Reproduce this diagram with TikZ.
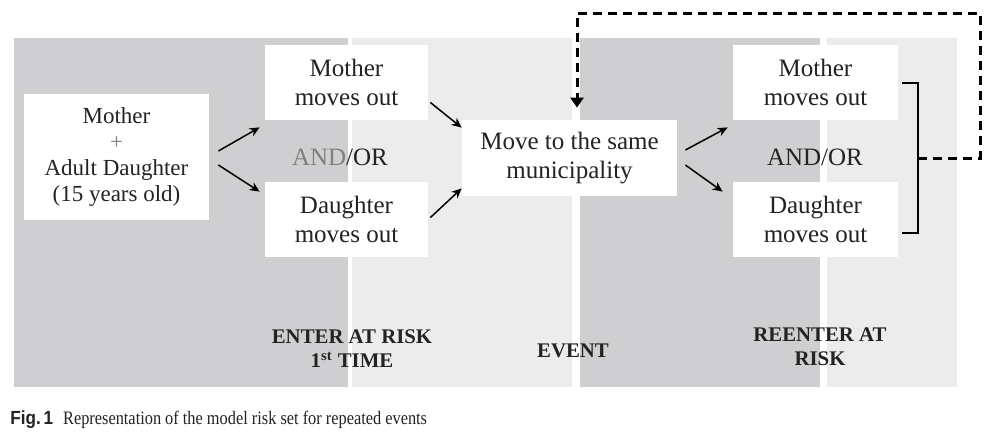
\documentclass[tikz,border=0pt]{standalone}
\usepackage{fontspec}
\setmainfont{Liberation Serif}
\newfontfamily\capfont{Liberation Sans}
\usetikzlibrary{calc,arrows.meta}

\definecolor{paneldark}{RGB}{207,207,209}
\definecolor{panellight}{RGB}{236,236,236}
\definecolor{inkgray}{RGB}{35,35,35}

\tikzset{
  box/.style={fill=white, align=center, inner sep=0pt, text=inkgray,
    font=\fontsize{12.5}{14.5}\selectfont},
  phase/.style={align=center, text=inkgray, font=\bfseries\fontsize{10.4}{12}\selectfont},
  arr/.style={-{Stealth[length=5pt,width=4.5pt]}, line width=0.75pt},
  brace/.style={line width=1pt},
  loopline/.style={line width=1.5pt, dash pattern=on 4.5pt off 3pt,
    -{Triangle[length=5pt,width=6.5pt]}},
}

\begin{document}
\begin{tikzpicture}[x=0.5pt, y=-0.5pt]
\useasboundingbox (0,0) rectangle (1000,440);

% background panels
\fill[paneldark] (14,38) rectangle (348,387);
\fill[panellight] (352,38) rectangle (572,387);
\fill[paneldark] (580,38) rectangle (820,387);
\fill[panellight] (827,38) rectangle (957,387);

% boxes
\node[box, minimum width=92.5pt, minimum height=63pt, font=\fontsize{11.5}{13}\selectfont] (start) at (116.5,157) {Mother\\{\color{gray}+}\\Adult Daughter\\(15 years old)};

\node[box, minimum width=81.5pt, minimum height=37.5pt] (mom1) at (346.5,82.5) {Mother\\moves out};
\node[box, minimum width=81.5pt, minimum height=37.5pt] (dau1) at (346.5,219.5) {Daughter\\moves out};
\node[box, fill=none] (andor1) at (340,157) {{\color{gray}AND}/OR};

\node[box, minimum width=107.5pt, minimum height=38pt] (move) at (569.5,158) {Move to the same\\municipality};

\node[box, minimum width=82.5pt, minimum height=37.5pt] (mom2) at (815.5,82.5) {Mother\\moves out};
\node[box, minimum width=82.5pt, minimum height=37.5pt] (dau2) at (815.5,219.5) {Daughter\\moves out};
\node[box, fill=none] (andor2) at (815,157) {AND/OR};

% phase labels
\node[phase] (enter) at (352,349) {ENTER AT RISK\\1\textsuperscript{st} TIME};
\node[phase] (event) at (573,351) {EVENT};
\node[phase] (reenter) at (820,347) {REENTER AT\\RISK};

% arrows
\draw[arr] ($(start.east)+(9,-6)$) -- ($(mom1.south west)+(-5,7)$);
\draw[arr] ($(start.east)+(9,8)$) -- ($(dau1.north west)+(-5,10)$);
\draw[arr] ($(mom1.east)+(2,20)$) -- ($(move.north west)+(0,8)$);
\draw[arr] ($(dau1.east)+(2,-2)$) -- ($(move.south west)+(0,-8)$);
\draw[arr] ($(move.east)+(8,-8)$) -- ($(mom2.south west)+(-5,7)$);
\draw[arr] ($(move.east)+(8,7)$) -- ($(dau2.north west)+(-10,10)$);

% bracket and loop back
\draw[brace] ($(mom2.east)+(4,0.5)$) -- ++(16,0) -- ++(0,150) -- ++(-16,0);
\coordinate (brk) at ($(mom2.east)+(20,75.5)$);
\draw[brace] (brk) -- ++(8,0);
\draw[loopline] (brk) -- ++(62,0) -- ++(0,-145) -| ($(move.north)+(7.5,-12)$);

% caption
\node[anchor=base west, inner sep=0pt, text=inkgray, font=\fontsize{9.5}{11}\selectfont] (caption) at (10,424)
  {\scalebox{0.9}[1]{\capfont\bfseries Fig.\,1}\hspace{5pt}\scalebox{0.86}[1]{Representation of the model risk set for repeated events}};
\end{tikzpicture}
\end{document}
